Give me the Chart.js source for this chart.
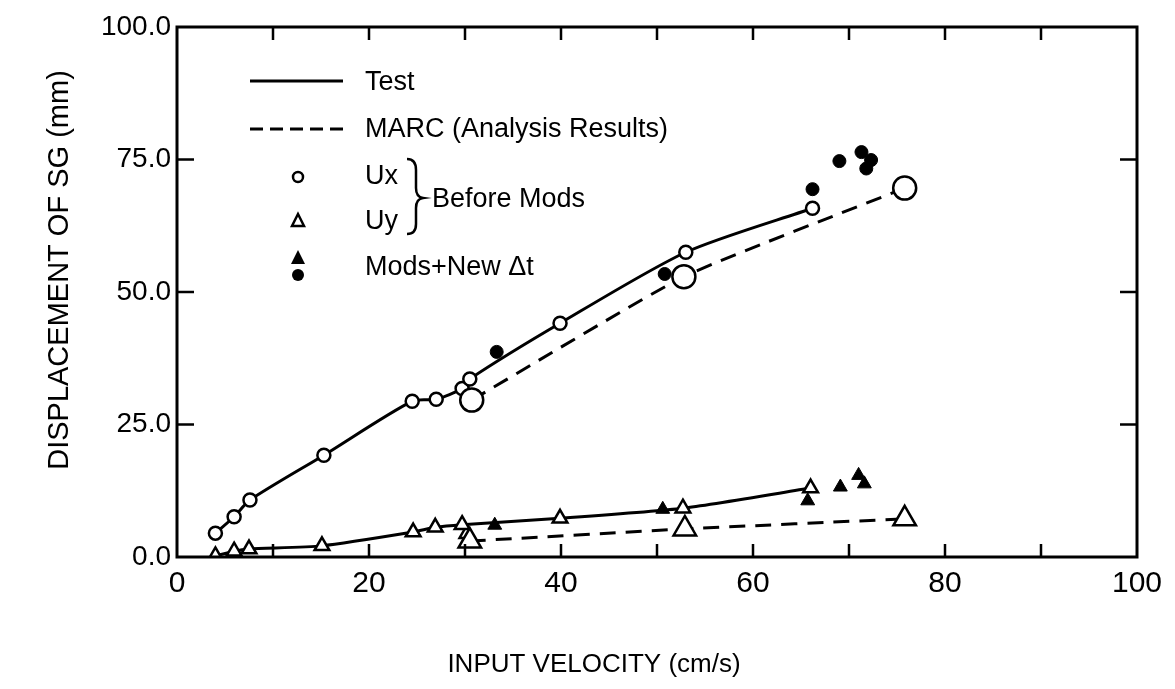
<!DOCTYPE html>
<html>
<head>
<meta charset="utf-8">
<script src="https://cdn.jsdelivr.net/npm/chart.js@4/dist/chart.umd.min.js"></script>
<style>
  html,body{margin:0;padding:0;background:#fff}
  #wrap{width:1175px;height:689px}
</style>
</head>
<body>
<div id="wrap"><canvas id="sgChart" width="1175" height="689"></canvas></div>
<script>
// input velocity (cm/s) vs displacement of SG (mm)
const uxTestX = [4.0, 5.95, 7.6, 15.3, 24.5, 27.0, 29.7, 30.5, 39.9, 53.0, 66.2];
const uxTestY = [4.5, 7.6, 10.75, 19.2, 29.4, 29.75, 31.8, 33.6, 44.1, 57.5, 65.8];
const uyTestX = [4.0, 5.95, 7.5, 15.1, 24.6, 26.9, 29.7, 39.9, 52.7, 66.0];
const uyTestY = [0.2, 1.1, 1.5, 2.1, 4.7, 5.6, 6.1, 7.3, 9.2, 13.0];
const uyExtraX = [30.2];
const uyExtraY = [4.4];
const uxMarcX = [30.7, 52.8, 75.8];
const uxMarcY = [29.6, 52.9, 69.6];
const uyMarcX = [30.5, 52.9, 75.8];
const uyMarcY = [3.0, 5.3, 7.2];
const uxModsX = [33.3, 50.8, 66.2, 69.0, 71.3, 72.3, 71.8];
const uxModsY = [38.7, 53.4, 69.4, 74.7, 76.4, 74.9, 73.3];
const uyModsX = [33.1, 50.6, 65.7, 69.1, 71.0, 71.6];
const uyModsY = [6.0, 9.0, 10.6, 13.2, 15.4, 13.8];
const xTicks = [0, 20, 40, 60, 80, 100];
const yTicks = [0, 25, 50, 75, 100];

const FONT = '"Liberation Sans", Arial, sans-serif';
const pts = (xs, ys) => xs.map((x, i) => ({x: x, y: ys[i]}));

// inward ticks, frame, legend and axis titles
const decor = {
  id: 'decor',
  afterDraw(chart){
    const ctx = chart.ctx;
    const xs = chart.scales.x, ys = chart.scales.y;
    const a = chart.chartArea;
    ctx.save();
    ctx.strokeStyle = '#000';
    ctx.lineWidth = 3;
    ctx.strokeRect(a.left, a.top, a.right - a.left, a.bottom - a.top);
    ctx.lineWidth = 2.5;
    ctx.beginPath();
    for(let v = 10; v < 100; v += 10){
      const px = xs.getPixelForValue(v);
      ctx.moveTo(px, a.bottom); ctx.lineTo(px, a.bottom - 13);
      ctx.moveTo(px, a.top); ctx.lineTo(px, a.top + 13);
    }
    for(let v = 25; v < 100; v += 25){
      const py = ys.getPixelForValue(v);
      ctx.moveTo(a.left, py); ctx.lineTo(a.left + 17, py);
      ctx.moveTo(a.right, py); ctx.lineTo(a.right - 17, py);
    }
    ctx.stroke();

    // legend
    ctx.fillStyle = '#000';
    ctx.font = '27px ' + FONT;
    ctx.textBaseline = 'middle';
    ctx.textAlign = 'left';
    ctx.lineWidth = 3;
    ctx.beginPath(); ctx.moveTo(250, 81); ctx.lineTo(343, 81); ctx.stroke();
    ctx.setLineDash([13, 7]);
    ctx.beginPath(); ctx.moveTo(250, 129); ctx.lineTo(343, 129); ctx.stroke();
    ctx.setLineDash([]);
    ctx.fillText('Test', 365, 83);
    ctx.fillText('MARC (Analysis Results)', 365, 130);
    ctx.fillText('Ux', 365, 177);
    ctx.fillText('Uy', 365, 222);
    ctx.fillText('Before Mods', 432, 200);
    ctx.fillText('Mods+New \u0394t', 365, 268);
    ctx.lineWidth = 2.5;
    ctx.beginPath(); ctx.arc(298, 177, 5, 0, Math.PI * 2); ctx.stroke();
    ctx.beginPath(); ctx.moveTo(298, 214); ctx.lineTo(304, 226); ctx.lineTo(292, 226); ctx.closePath(); ctx.stroke();
    ctx.beginPath(); ctx.moveTo(298, 250); ctx.lineTo(305, 264); ctx.lineTo(291, 264); ctx.closePath(); ctx.fill();
    ctx.beginPath(); ctx.arc(298, 275, 6, 0, Math.PI * 2); ctx.fill();
    // brace
    ctx.lineWidth = 2.5;
    ctx.beginPath();
    ctx.moveTo(407, 159);
    ctx.quadraticCurveTo(416, 159, 416, 170);
    ctx.lineTo(416, 188);
    ctx.quadraticCurveTo(416, 197, 423, 198);
    ctx.quadraticCurveTo(416, 199, 416, 208);
    ctx.lineTo(416, 224);
    ctx.quadraticCurveTo(416, 234, 407, 234);
    ctx.stroke();

    // axis titles
    ctx.font = '26px ' + FONT;
    ctx.textAlign = 'center';
    ctx.fillText('INPUT VELOCITY (cm/s)', 594, 665);
    ctx.save();
    ctx.translate(60, 270);
    ctx.rotate(-Math.PI / 2);
    ctx.font = '29px ' + FONT;
    ctx.fillText('DISPLACEMENT OF SG (mm)', 0, 0);
    ctx.restore();
    ctx.restore();
  }
};

const ctx = document.getElementById('sgChart').getContext('2d');
new Chart(ctx, {
  type: 'scatter',
  data: {
    datasets: [
      {label: 'Mods Ux', data: pts(uxModsX, uxModsY), showLine: false, pointStyle: 'circle', pointRadius: 6.5, backgroundColor: '#000', borderColor: '#000', order: 0},
      {label: 'Mods Uy', data: pts(uyModsX, uyModsY), showLine: false, pointStyle: 'triangle', pointRadius: 8, backgroundColor: '#000', borderColor: '#000', order: 0},
      {label: 'MARC Ux', data: pts(uxMarcX, uxMarcY), showLine: true, borderDash: [16, 10], borderWidth: 3, tension: 0.15, pointStyle: 'circle', pointRadius: 11.5, pointBorderWidth: 2.5, backgroundColor: '#fff', borderColor: '#000', order: 1},
      {label: 'MARC Uy', data: pts(uyMarcX, uyMarcY), showLine: true, borderDash: [16, 10], borderWidth: 3, tension: 0.1, pointStyle: 'triangle', pointRadius: 13, pointBorderWidth: 2.5, backgroundColor: '#fff', borderColor: '#000', order: 1},
      {label: 'Test Ux', data: pts(uxTestX, uxTestY), showLine: true, borderWidth: 3, tension: 0.25, pointStyle: 'circle', pointRadius: 6.5, pointBorderWidth: 2.5, backgroundColor: '#fff', borderColor: '#000', order: 2},
      {label: 'Test Uy', data: pts(uyTestX, uyTestY), showLine: true, borderWidth: 3, tension: 0.2, pointStyle: 'triangle', pointRadius: 8.5, pointBorderWidth: 2.5, backgroundColor: '#fff', borderColor: '#000', order: 2},
      {label: 'Test Uy extra', data: pts(uyExtraX, uyExtraY), showLine: false, pointStyle: 'triangle', pointRadius: 8.5, pointBorderWidth: 2.5, backgroundColor: '#fff', borderColor: '#000', order: 2}
    ]
  },
  options: {
    responsive: false,
    animation: false,
    layout: {padding: {top: 27, right: 38, left: 0, bottom: 0}},
    scales: {
      x: {
        type: 'linear', min: 0, max: 100,
        afterFit(scale){ scale.height = 132; },
        afterBuildTicks(scale){ scale.ticks = xTicks.map(v => ({value: v})); },
        grid: {display: false, drawTicks: false},
        border: {display: false},
        ticks: {color: '#000', padding: 9, font: {family: FONT, size: 30}, callback: v => String(v)}
      },
      y: {
        type: 'linear', min: 0, max: 100,
        afterFit(scale){ scale.width = 177; },
        afterBuildTicks(scale){ scale.ticks = yTicks.map(v => ({value: v})); },
        grid: {display: false, drawTicks: false},
        border: {display: false},
        ticks: {color: '#000', padding: 6, font: {family: FONT, size: 28}, callback: v => Number(v).toFixed(1)}
      }
    },
    plugins: {
      legend: {display: false},
      tooltip: {enabled: false}
    }
  },
  plugins: [decor]
});
</script>
</body>
</html>
